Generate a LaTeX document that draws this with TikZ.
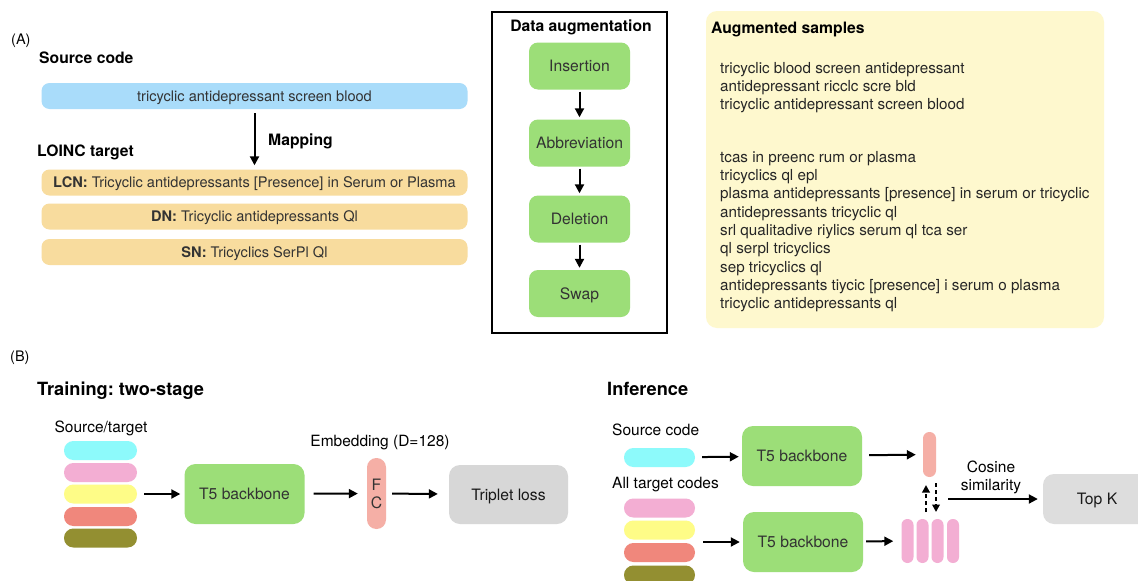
\documentclass[tikz,border=0pt]{standalone}
\usepackage{fontspec}
\setmainfont{TeX Gyre Heros}
\usetikzlibrary{arrows.meta}
\frenchspacing

\definecolor{txt}{HTML}{333333}
\definecolor{srcblue}{HTML}{A9DCFA}
\definecolor{tgtorange}{HTML}{F8DC9E}
\definecolor{augbg}{HTML}{FEF8CE}
\definecolor{boxgreen}{HTML}{9CDE78}
\definecolor{pcyan}{HTML}{8DFAFB}
\definecolor{ppink}{HTML}{F3AED3}
\definecolor{pyellow}{HTML}{FEFC87}
\definecolor{psalmon}{HTML}{F0877C}
\definecolor{polive}{HTML}{938F31}
\definecolor{fcsalmon}{HTML}{F5AFA6}
\definecolor{lossgray}{HTML}{D7D7D7}

\begin{document}
\begin{tikzpicture}[x=1pt,y=-1pt,
  every node/.style={text depth=0pt},
  body/.style={font=\fontsize{14.5}{17}\selectfont, text=txt, inner sep=0pt},
  sample/.style={font=\fontsize{15.2}{18}\selectfont, text=black!85, inner sep=0pt, anchor=west},
  bbody/.style={font=\fontsize{15.5}{18}\selectfont, text=txt, inner sep=0pt},
  head/.style={font=\fontsize{15.7}{18}\selectfont\bfseries, inner sep=0pt},
  bighead/.style={font=\fontsize{18.2}{21}\selectfont\bfseries, inner sep=0pt},
  codebar/.style={rectangle, rounded corners=8pt, minimum width=426pt, minimum height=26pt,
    inner sep=0pt, font=\fontsize{14.6}{17}\selectfont, text=txt},
  augstep/.style={rectangle, rounded corners=9pt, fill=boxgreen, minimum width=101pt,
    minimum height=47pt, inner sep=0pt, font=\fontsize{15.7}{18}\selectfont, text=txt},
  model/.style={rectangle, rounded corners=11pt, fill=boxgreen, minimum width=120pt,
    minimum height=60pt, inner sep=0pt, font=\fontsize{15.7}{18}\selectfont, text=txt},
  pill/.style={rectangle, rounded corners=9.4pt, minimum width=73pt, minimum height=19pt, inner sep=0pt},
  vbar/.style={rectangle, rounded corners=5.9pt, minimum width=12pt, minimum height=44pt, inner sep=0pt, fill=ppink},
  arr/.style={-{Triangle[length=9pt,width=9pt]}, line width=2pt},
  darr/.style={-{Triangle[length=7.5pt,width=7.5pt]}, line width=2pt, dash pattern=on 4pt off 3pt}
]
\clip (0,0) rectangle (1138,581);
\fill[white] (0,0) rectangle (1138,581);

% ---------------- Part (A) ----------------
\node[body, anchor=west, text=black] (labA) at (11,39) {(A)};
\node[head, anchor=west] (srchead) at (39,58) {Source code};
\node[codebar, fill=srcblue] (src) at (254.5,96) {tricyclic antidepressant screen blood};
\node[head, anchor=west] (mapping) at (268,140) {Mapping};
\node[head, anchor=west] (tgthead) at (37,151) {LOINC target};
\node[codebar, fill=tgtorange] (lcn) at (254.5,182.5) {\textbf{LCN:} Tricyclic antidepressants [Presence] in Serum or Plasma};
\node[codebar, fill=tgtorange] (dn) at (254.5,216.5) {\textbf{DN:} Tricyclic antidepressants Ql};
\node[codebar, fill=tgtorange] (sn) at (254.5,252) {\textbf{SN:} Tricyclics SerPl Ql};
\draw[arr, shorten <=4pt, shorten >=4pt] (src) -- (lcn);

% Data augmentation pipeline
\draw[line width=1.6pt] (492,12) rectangle (667,333);
\node[head] (aughead) at (581,26) {Data augmentation};
\node[augstep] (ins) at (579.5,66) {Insertion};
\node[augstep] (abb) at (579.5,143) {Abbreviation};
\node[augstep] (del) at (579.5,219) {Deletion};
\node[augstep] (swp) at (579.5,293.5) {Swap};
\draw[arr, shorten <=2pt, shorten >=2pt] (ins) -- (abb);
\draw[arr, shorten <=2pt, shorten >=2pt] (abb) -- (del);
\draw[arr, shorten <=2pt, shorten >=2pt] (del) -- (swp);

% Augmented samples
\fill[augbg, rounded corners=11pt] (706,11) rectangle (1104,328);
\node[head, anchor=west] (samphead) at (711,28) {Augmented samples};
\node[sample] (s1) at (720,68) {tricyclic blood screen antidepressant};
\node[sample] (s2) at (720,86) {antidepressant ricclc scre bld};
\node[sample] (s3) at (720,104) {tricyclic antidepressant screen blood};
\node[sample] (s4) at (720,157) {tcas in preenc rum or plasma};
\node[sample] (s5) at (720,175) {tricyclics ql epl};
\node[sample] (s6) at (720,193) {plasma antidepressants [presence] in serum or tricyclic};
\node[sample] (s7) at (720,211.5) {antidepressants tricyclic ql};
\node[sample] (s8) at (720,230) {srl qualitadive riylics serum ql tca ser};
\node[sample] (s9) at (720,248) {ql serpl tricyclics};
\node[sample] (s10) at (720,266.5) {sep tricyclics ql};
\node[sample] (s11) at (720,285) {antidepressants tiycic [presence] i serum o plasma};
\node[sample] (s12) at (720,303) {tricyclic antidepressants ql};

% ---------------- Part (B) ----------------
\node[body, anchor=west, text=black] (labB) at (10,356) {(B)};

% Training
\node[bighead, anchor=west] (trainhead) at (37,389) {Training: two-stage};
\node[bbody, text=black] (stlabel) at (101,427) {Source/target};
\node[pill, fill=pcyan] (tp1) at (100.5,450.5) {};
\node[pill, fill=ppink] (tp2) at (100.5,472.5) {};
\node[pill, fill=pyellow] (tp3) at (100.5,494) {};
\node[pill, fill=psalmon] (tp4) at (100.5,516.5) {};
\node[pill, fill=polive] (tp5) at (100.5,538) {};
\node[model] (t5a) at (244.5,494) {T5 backbone};
\node[rectangle, rounded corners=9.4pt, fill=fcsalmon, minimum width=19pt, minimum height=71pt,
  inner sep=0pt, align=center, font=\fontsize{15.7}{18}\selectfont, text=txt] (fc) at (376.5,493.5) {F\\C};
\node[bbody, text=black] (emblabel) at (380,441) {Embedding (D=128)};
\node[rectangle, rounded corners=11pt, fill=lossgray, minimum width=119pt, minimum height=59pt,
  inner sep=0pt, font=\fontsize{15.7}{18}\selectfont, text=black!90] (trip) at (508.5,494.5) {Triplet loss};
\draw[arr, shorten <=7pt, shorten >=4pt] (tp3) -- (t5a);
\draw[arr, shorten <=9pt, shorten >=9pt] (t5a) -- (fc);
\draw[arr, shorten <=6pt, shorten >=11pt] (fc) -- (trip);

% Inference
\node[bighead, anchor=west] (infhead) at (607,389) {Inference};
\node[bbody, anchor=west, text=black] (srclab) at (612,430) {Source code};
\node[pill, fill=pcyan, minimum width=71pt] (ip0) at (659.5,457.5) {};
\node[model] (t5b) at (802,456) {T5 backbone};
\node[rectangle, rounded corners=6.4pt, fill=fcsalmon, minimum width=13pt, minimum height=45pt,
  inner sep=0pt] (qemb) at (929.5,454.5) {};
\draw[arr, shorten <=7pt, shorten >=3pt] (ip0) -- (t5b);
\draw[arr, shorten <=7pt, shorten >=7pt] (t5b) -- (qemb);

\node[bbody, anchor=west, text=black] (alllab) at (612,483) {All target codes};
\node[pill, fill=ppink, minimum width=71pt] (ip1) at (659.5,508) {};
\node[pill, fill=pyellow, minimum width=71pt] (ip2) at (659.5,530) {};
\node[pill, fill=psalmon, minimum width=71pt] (ip3) at (659.5,552.5) {};
\node[pill, fill=polive, minimum width=71pt] (ip4) at (659.5,575) {};
\coordinate (tin) at (703,542);
\node[model] (t5c) at (803,542) {T5 backbone};
\draw[arr, shorten >=3pt] (tin) -- (t5c);

\node[vbar] (b1) at (907.5,541) {};
\node[vbar] (b2) at (922.5,541) {};
\node[vbar] (b3) at (937.5,541) {};
\node[vbar] (b4) at (953,541) {};
\draw[arr, shorten <=3pt, shorten >=8pt] (t5c) -- (b1);

% comparison between the query embedding and the target embeddings
\coordinate (upS) at (926,512);
\coordinate (upE) at (926,485);
\coordinate (dnS) at (936,483);
\coordinate (dnE) at (936,512);
\draw[darr] (upS) -- (upE);
\draw[darr] (dnS) -- (dnE);

\node[bbody, align=center, text=black, font=\fontsize{15.5}{17.5}\selectfont] (cos) at (991,475.5) {Cosine\\similarity};
\coordinate (cs) at (948,499);
\node[rectangle, rounded corners=11pt, fill=lossgray!85, minimum width=108pt, minimum height=50pt,
  inner sep=0pt, font=\fontsize{15.7}{18}\selectfont, text=black!90] (topk) at (1097,499) {Top K};
\draw[arr, shorten >=5pt] (cs) -- (topk);
\end{tikzpicture}
\end{document}
